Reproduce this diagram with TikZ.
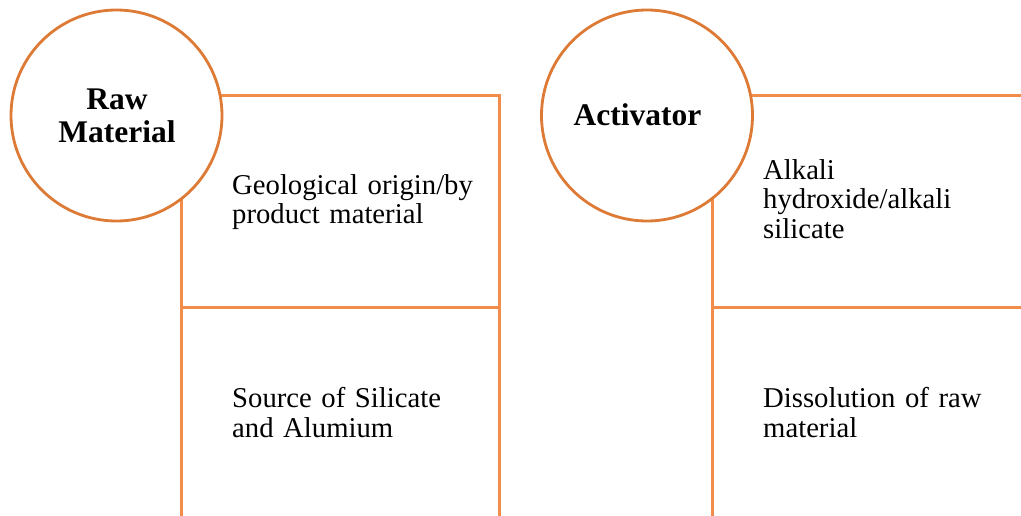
\documentclass[tikz,border=0pt]{standalone}
\usepackage{fontspec}
\setmainfont{Liberation Serif}
\definecolor{ringorange}{RGB}{221,122,53}
\definecolor{boxorange}{RGB}{242,140,74}
\tikzset{
  cell/.style={draw=boxorange, line width=2.8pt, rectangle, inner sep=0pt, anchor=north west},
  ring/.style={draw=ringorange, line width=2.8pt, circle, fill=white, minimum size=211pt, inner sep=0pt},
  ringtext/.style={inner sep=0pt, anchor=base, align=center, font=\fontsize{31.5}{33}\selectfont\bfseries},
  celltext/.style={anchor=base west, inner sep=0pt, text width=270pt, align=left,
    font=\fontsize{28.7}{29.5}\selectfont}
}
\begin{document}
\begin{tikzpicture}[x=1pt, y=-1pt]
  \useasboundingbox (0,0) rectangle (1021,515);
  \clip (0,0) rectangle (1021,515);

  % left column: raw material
  \node[cell, minimum width=318pt, minimum height=212pt] (rmTop) at (180,94) {};
  \node[cell, minimum width=318pt, minimum height=230pt] (rmBot) at (180,306) {};
  \node[celltext] (rmOrigin) at (232,194) {Geological origin/by\\product material};
  \node[celltext] (rmSource) at (232,407.5) {Source of Silicate\\and Alumium};
  \node[ring] (raw) at (116.5,115.5) {};
  \node[ringtext, text width=200pt] (rawLabel) at (117,109) {Raw\\Material};

  % right column: activator
  \node[cell, minimum width=330pt, minimum height=212pt] (acTop) at (711,94) {};
  \node[cell, minimum width=330pt, minimum height=230pt] (acBot) at (711,306) {};
  \node[celltext] (acType) at (763,179) {Alkali\\hydroxide/alkali\\silicate};
  \node[celltext] (acRole) at (763,407.5) {Dissolution of raw\\material};
  \node[ring] (act) at (647,115.5) {};
  \node[ringtext] (actLabel) at (637.5,125) {Activator};
\end{tikzpicture}
\end{document}
